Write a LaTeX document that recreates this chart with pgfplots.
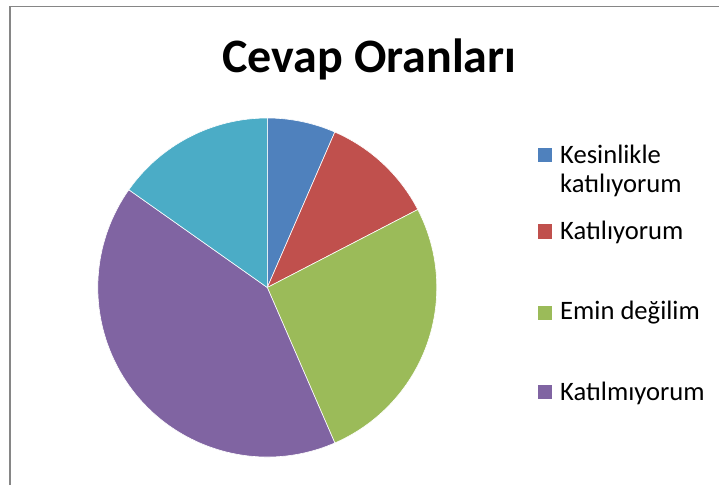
\documentclass[border=0pt]{standalone}
\usepackage{fontspec}
\setmainfont{Carlito}
\usepackage{pgfplots}
\pgfplotsset{compat=1.18}
\definecolor{c1}{HTML}{4F81BD}
\definecolor{c2}{HTML}{C0504D}
\definecolor{c3}{HTML}{9BBB59}
\definecolor{c4}{HTML}{8064A2}
\definecolor{c5}{HTML}{4BACC6}
\definecolor{framegray}{HTML}{868686}

% one wedge per row: start = answers before this slice, n = answers in it (46 in all)
\pgfplotsset{
  pie/.style={
    scatter, only marks, mark=*, mark size=0pt,
    visualization depends on={\thisrow{start}\as\pstart},
    visualization depends on={\thisrow{n}\as\pn},
    scatter/@pre marker code/.code={%
      \fill[#1, draw=white, line width=0.6pt] (0,0)
        -- ({90-\pstart*360/46}:169.5pt)
        arc[start angle={90-\pstart*360/46}, delta angle={-\pn*360/46}, radius=169.5pt]
        -- cycle;},
    scatter/@post marker code/.code={},
  },
}

\begin{document}
\begin{tikzpicture}
\begin{axis}[
    width=719pt, height=485pt, scale only axis,
    xmin=0, xmax=719, ymin=0, ymax=485,
    hide axis, clip=false,
]
\coordinate (bl) at (axis cs:0,0);
\coordinate (tr) at (axis cs:719,485);
\draw[framegray, line width=1.3pt] (axis cs:10,0) -- (axis cs:10,478.5) -- (axis cs:719,478.5);

\addplot[pie=c1] table {
x y start n
267.3 197.5 0 3
};
\addplot[pie=c2] table {
x y start n
267.3 197.5 3 5
};
\addplot[pie=c3] table {
x y start n
267.3 197.5 8 12
};
\addplot[pie=c4] table {
x y start n
267.3 197.5 20 19
};
\addplot[pie=c5] table {
x y start n
267.3 197.5 39 7
};

\node[anchor=base, font=\bfseries\fontsize{48}{56}\selectfont] at (axis cs:369.5,412) {Cevap Oranları};

\begin{scope}[every node/.style={anchor=base west, font=\fontsize{26.6}{30}\selectfont, inner sep=0pt}]
\fill[c1] (axis cs:537.5,337) rectangle (axis cs:551.5,323);
\fill[c2] (axis cs:537.5,260.5) rectangle (axis cs:551.5,246.5);
\fill[c3] (axis cs:537.5,179.5) rectangle (axis cs:551.5,165.5);
\fill[c4] (axis cs:537.5,100) rectangle (axis cs:551.5,86);
\node at (axis cs:560,321.7) {Kesinlikle};
\node at (axis cs:560,292.3) {katılıyorum};
\node at (axis cs:560,245) {Katılıyorum};
\node at (axis cs:560,165.7) {Emin değilim};
\node at (axis cs:560,85) {Katılmıyorum};
\end{scope}
\end{axis}
\pgfresetboundingbox
\path[use as bounding box] (bl) rectangle (tr);
\end{tikzpicture}
\end{document}
